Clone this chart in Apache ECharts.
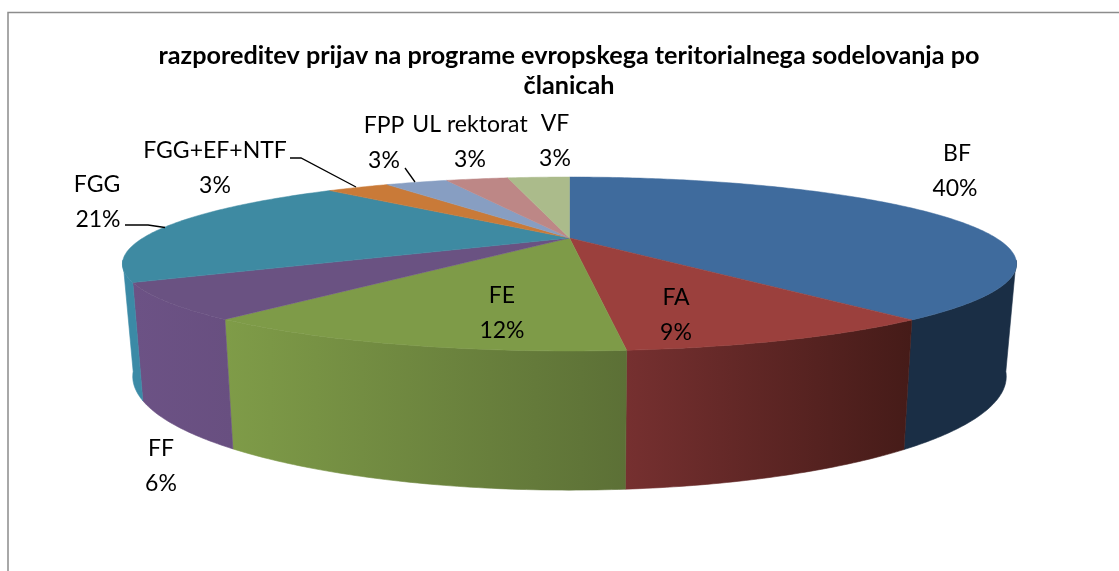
<!DOCTYPE html>
<html><head><meta charset="utf-8">
<style>html,body{margin:0;padding:0;background:#fff}#c{width:1119px;height:571px}</style>
<script src="https://cdn.jsdelivr.net/npm/echarts@6/dist/echarts.min.js"></script>
</head><body><div id="c"></div>
<script>
const categories = ['BF','FA','FE','FF','FGG','FGG+EF+NTF','FPP','UL rektorat','VF'];
const values = [39.5,9.0,12.1,6.4,21,3,3,3,3];
const titleText = 'razporeditev prijav na programe evropskega teritorialnega sodelovanja po\nčlanicah';

const topColors = ['#3f6b9d','#9b403d','#7e9b48','#6a5282','#3e8aa2','#c97a38','#879ec2','#bd8786','#abbb8b'];
const wallColors = [['#1a2e45','#1a2e45'],['#763030','#451b18'],['#7f9c48','#5c7036'],['#6c5285','#684f80'],['#3b8aa6','#3b8aa6'],['#c97a38','#c97a38'],['#879ec2','#879ec2'],['#bd8786','#bd8786'],['#abbb8b','#abbb8b']];
// label layout: [centre x, first line centre y, second line centre x offset]
const labelLayout = [[957,154,-2],[676,298,0],[502,296,0],[161,449,0],[97,185,1],[215,151,0],[384,126,0],[470,125,0],[555,124,0]];
const leaderLines = {4:[[125,225],[148,225],[165,227.5]],5:[[290,158],[301,158],[356,187]],6:[[405,168],[415,182]]};

const total = values.reduce((a,b)=>a+b,0);
const cum = [0]; values.forEach(v=>cum.push(cum[cum.length-1]+v));
const ang = i => cum[i]/total*Math.PI*2;
const CX=569.5,K=-0.2989,AX=426.6;
function P(t,bottom){
  const u=Math.sin(t),v=-Math.cos(t),w=1+K*v;
  return bottom ? [CX+0.977*AX*u/w, 342.5+103.5*v/w] : [CX+AX*u/w, 238+79.2*v/w];
}
function arc(a,b,bottom){
  const n=Math.max(2,Math.ceil(Math.abs(b-a)/0.012)),r=[];
  for(let i=0;i<=n;i++) r.push(P(a+(b-a)*i/n,bottom));
  return r;
}
const VIS0=105*Math.PI/180,VIS1=255*Math.PI/180;
const data = categories.map((c,i)=>({name:c,value:[i,values[i]]}));

function renderWall(params,api){
  const i=api.value(0),a=Math.max(ang(i),VIS0),b=Math.min(ang(i+1),VIS1);
  if(b<=a) return {type:'group',children:[]};
  const pts=arc(a,b,false).concat(arc(b,a,true));
  const c=wallColors[i];
  const mk=()=>new echarts.graphic.LinearGradient(0,0,1,0,[{offset:0,color:c[0]},{offset:1,color:c[1]}]);
  return {type:'polygon',shape:{points:pts},style:{fill:mk(),stroke:mk(),lineWidth:0.6},silent:true};
}
function renderTop(params,api){
  const i=api.value(0);
  const pts=[[CX,238]].concat(arc(ang(i),ang(i+1),false));
  return {type:'polygon',shape:{points:pts},style:{fill:topColors[i],stroke:topColors[i],lineWidth:0.5},silent:true};
}
function renderLabel(params,api){
  const i=api.value(0),l=labelLayout[i];
  const pct=Math.round(api.value(1)/total*100)+'%';
  const font={fontFamily:'Lato',fontSize:23,fill:'#000',align:'center',verticalAlign:'middle'};
  const kids=[
    {type:'text',x:l[0],y:l[1],style:Object.assign({text:categories[i]},font)},
    {type:'text',x:l[0]+l[2],y:l[1]+34.5,style:Object.assign({text:pct},font)}
  ];
  if(leaderLines[i]) kids.push({type:'polyline',shape:{points:leaderLines[i]},style:{stroke:'#000',lineWidth:1.3,fill:null}});
  return {type:'group',children:kids,silent:true};
}
const chart=echarts.init(document.getElementById('c'),null,{renderer:'canvas'});
chart.setOption({
  animation:false,
  backgroundColor:'#fff',
  title:{text:titleText,left:564,top:36,textAlign:'center',
    textStyle:{fontFamily:'Lato',fontWeight:'bold',fontSize:25.2,color:'#000',lineHeight:30}},
  graphic:[{type:'rect',z:0,shape:{x:8,y:12.5,width:1200,height:700},style:{fill:'none',stroke:'#8c8c8c',lineWidth:1.5}}],
  series:[
    {type:'custom',coordinateSystem:'none',renderItem:renderWall,data:data,z:2,clip:false},
    {type:'custom',coordinateSystem:'none',renderItem:renderTop,data:data,z:3,clip:false},
    {type:'custom',coordinateSystem:'none',renderItem:renderLabel,data:data,z:4,clip:false}
  ]
});
</script></body></html>
